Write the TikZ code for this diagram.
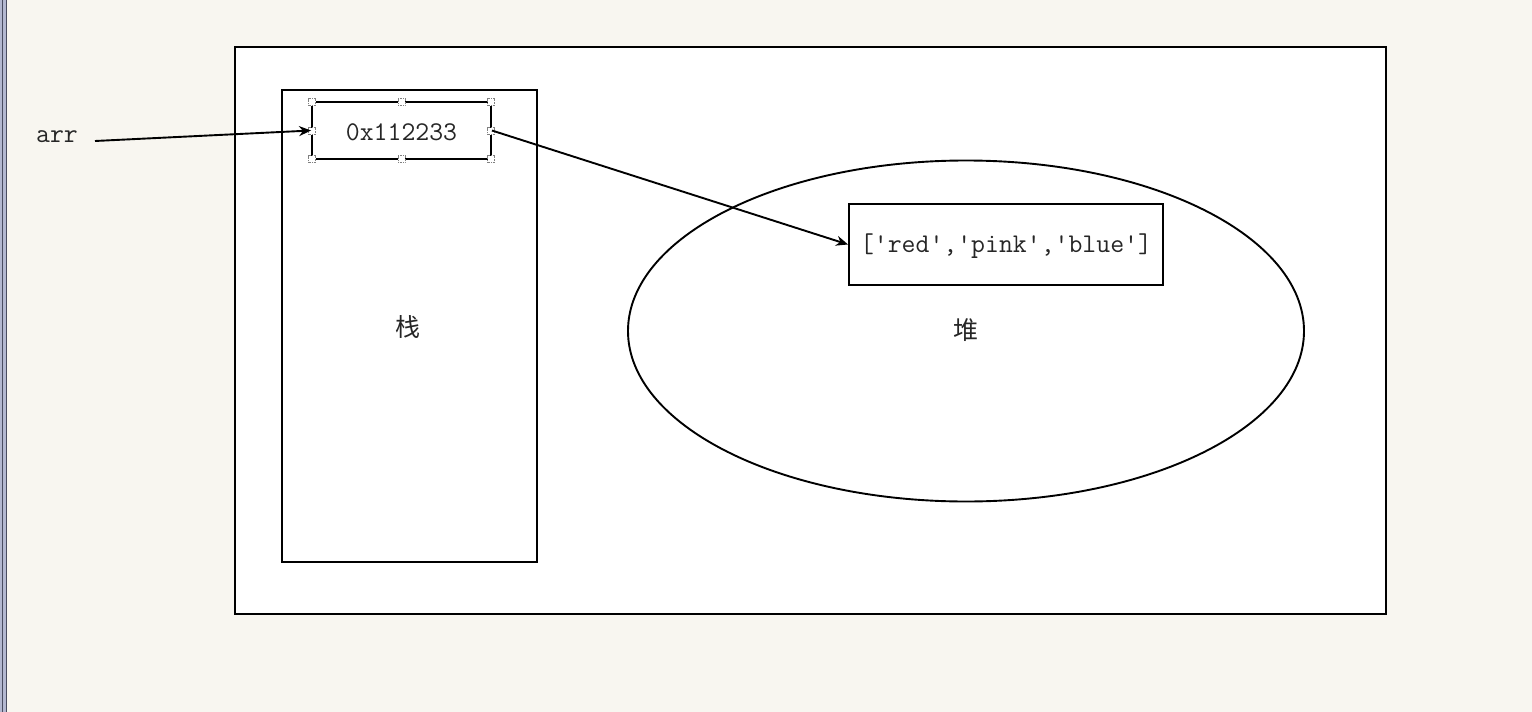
\documentclass[tikz,border=0pt]{standalone}
\usepackage{fontspec}
\newfontfamily\cjk{Noto Sans CJK SC}
\usetikzlibrary{arrows.meta,shapes.geometric}
\definecolor{paper}{HTML}{F8F6F0}
\definecolor{frameedge}{HTML}{B4B8D0}
\definecolor{framedark}{HTML}{4A4C60}
\tikzset{
  box/.style={draw=black, line width=1.9pt, fill=white},
  codetext/.style={font=\fontsize{27}{30}\ttfamily, inner sep=0pt, text=black!85},
  hantext/.style={font=\fontsize{25}{28}\cjk, inner sep=0pt, text=black!85},
  link/.style={line width=1.9pt, -{Stealth[length=12pt,width=10pt]}},
  handle/.style={draw=gray, line width=0.7pt, fill=white, minimum size=7pt, inner sep=0pt, densely dotted}
}
\begin{document}
\begin{tikzpicture}[x=1pt,y=-1pt]
  % canvas
  \fill[paper] (0,0) rectangle (1532,712);
  \useasboundingbox (0,0) rectangle (1532,712);
  % window edge on the left
  \fill[frameedge] (0,0) rectangle (7,712);
  \draw[framedark, line width=1.2pt] (6.2,0) -- (6.2,712);
  \draw[framedark, line width=0.8pt] (2,0) -- (2,712);

  % memory area
  \draw[box] (235,47) rectangle (1386,614);
  % stack
  \draw[box] (282,90) rectangle (537,562);
  % heap
  \node[box, ellipse, minimum width=676pt, minimum height=341pt, inner sep=0pt] (heap) at (966,331) {};

  \node[hantext] (stacklabel) at (408,327) {栈};
  \node[hantext] (heaplabel) at (966,330) {堆};

  % reference cell on the stack
  \node[box, minimum width=179pt, minimum height=57pt, inner sep=0pt] (ref) at (401.5,130.5) {};
  \node[codetext] (reftext) at (401.5,132) {0x112233};

  % selection handles around the reference cell
  \foreach \hx/\hy in {312/102,401.5/102,491/102,312/131,491/131,312/159,401.5/159,491/159}
    \node[handle] at (\hx,\hy) {};

  % array object on the heap
  \node[box, minimum width=314pt, minimum height=81pt, inner sep=0pt] (arrobj) at (1006,244.5) {};
  \node[codetext] (arrtext) at (1006,246) {['red','pink','blue']};

  % variable name
  \node[codetext] (var) at (57,137) {arr};
  \coordinate (varend) at (95,141);

  \draw[link] (varend) -- (ref.west);
  \draw[link] (ref.east) -- (arrobj.west);
\end{tikzpicture}
\end{document}
